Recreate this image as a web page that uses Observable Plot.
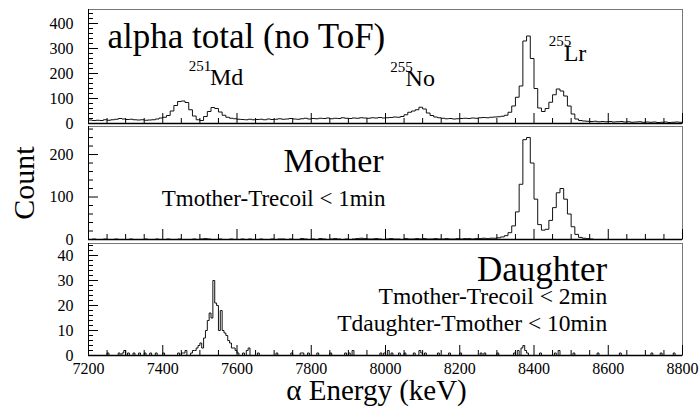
<!DOCTYPE html>
<html><head><meta charset="utf-8">
<script src="https://cdn.jsdelivr.net/npm/d3@7"></script>
<script src="https://cdn.jsdelivr.net/npm/@observablehq/plot@0.6"></script>
<style>
body{margin:0;background:#fff;}
#chart svg{display:block;}
#chart svg, #chart svg text, #chart svg g{font-family:"Liberation Serif","DejaVu Serif","Times New Roman",Times,serif !important;}
</style></head><body><div id="chart"></div>
<script>
// ---- data ----
const binStart = 7200;
const binEnd = 8800;
const totalBinWidth = 10;   // keV
// alpha total (no ToF), 10 keV bins from 7200
const totalCounts = [
  14, 12, 13, 12, 15, 13, 15, 17, 20, 18,
  16, 17, 15, 14, 15, 13, 14, 15, 18, 22,
  25, 32, 50, 72, 88, 90, 84, 55, 30, 15,
  12, 28, 48, 64, 60, 46, 33, 25, 21, 19,
  17, 16, 15, 17, 15, 16, 17, 15, 18, 16,
  17, 19, 17, 18, 20, 18, 17, 19, 21, 18,
  20, 19, 21, 20, 22, 19, 21, 20, 23, 21,
  20, 22, 21, 23, 22, 21, 23, 22, 24, 22,
  23, 24, 26, 25, 28, 35, 45, 50, 55, 65,
  58, 42, 32, 26, 23, 21, 19, 20, 18, 19,
  20, 21, 20, 22, 21, 23, 24, 23, 25, 26,
  27, 29, 33, 45, 70, 105, 150, 330, 350, 260,
  140, 62, 48, 60, 85, 115, 138, 130, 110, 70,
  38, 18, 12, 10, 9, 8, 9, 7, 8, 7,
  8, 6, 7, 8, 6, 7, 5, 6, 7, 5,
  6, 5, 6, 4, 5, 6, 4, 5, 6, 5
];
// Mother, 10 keV bins from 7200
const motherCounts = [
  0, 1, 0, 0, 1, 0, 0, 1, 0, 0,
  0, 1, 0, 0, 0, 1, 0, 0, 1, 0,
  0, 1, 0, 0, 1, 0, 0, 0, 1, 0,
  1, 2, 1, 0, 0, 1, 0, 0, 1, 0,
  0, 1, 0, 1, 0, 0, 1, 0, 0, 1,
  0, 1, 1, 0, 1, 0, 0, 2, 1, 0,
  1, 0, 2, 1, 0, 1, 2, 1, 0, 1,
  0, 1, 2, 3, 2, 1, 1, 2, 1, 0,
  1, 2, 1, 1, 0, 2, 1, 1, 2, 1,
  2, 1, 1, 2, 1, 1, 2, 1, 1, 2,
  1, 2, 2, 1, 2, 2, 3, 2, 3, 3,
  4, 6, 9, 16, 32, 65, 130, 235, 240, 180,
  95, 35, 22, 24, 45, 75, 110, 120, 95, 60,
  30, 12, 5, 3, 2, 1, 0, 0, 0, 0,
  0, 0, 0, 0, 0, 0, 0, 0, 0, 0,
  0, 0, 0, 0, 0, 0, 0, 0, 0, 0
];
// Daughter, 5 keV bins: [bin start keV, count], empty bins are 0
const daughterBinWidth = 5;
const daughterBins = [
  [7250,1],[7280,1],[7290,1],[7295,2],[7305,1],[7320,1],[7335,1],[7350,1],[7365,1],[7380,1],
  [7400,1],[7440,1],[7450,1],[7455,1],[7460,2],[7475,1],[7480,2],[7485,2],[7490,3],[7495,4],
  [7500,5],[7505,3],[7510,7],[7515,10],[7520,14],[7525,17],[7530,15],[7535,30],[7540,21],[7545,20],
  [7550,10],[7555,18],[7560,10],[7565,9],[7570,8],[7575,6],[7580,5],[7585,3],[7590,3],[7595,2],
  [7600,1],[7615,1],[7625,2],[7630,3],[7655,1],[7705,1],[7745,1],[7770,1],[7775,1],[7790,1],
  [7815,1],[7850,1],[7890,1],[7900,1],[7910,2],[7985,1],[7995,1],[8005,2],[8015,1],[8035,1],
  [8050,1],[8075,1],[8090,2],[8095,1],[8105,1],[8140,1],[8170,1],[8200,1],[8255,1],[8265,1],
  [8300,1],[8345,1],[8355,2],[8365,3],[8370,4],[8375,2],[8380,1],[8415,1],[8455,1],[8465,2],
  [8505,1],[8570,1],[8630,1],[8715,1],[8740,1],[8775,1]
];
const xMajorTicks = [7200, 7400, 7600, 7800, 8000, 8200, 8400, 8600, 8800];
const xMinorStep = 50;
const totalYTicks = [0, 100, 200, 300, 400];
const motherYTicks = [0, 100, 200];
const daughterYTicks = [0, 10, 20, 30, 40];

// ---- helpers ----
const serif = "Liberation Serif, DejaVu Serif, serif";
const W = 699, ML = 88, MR = 17;
const innerW = W - ML - MR;

function stepData(counts, width) {
  const pts = counts.map((c, i) => ({x: binStart + i * width, y: c}));
  pts.push({x: binStart + counts.length * width, y: counts[counts.length - 1]});
  return pts;
}
const daughterCounts = d3.range((binEnd - binStart) / daughterBinWidth).map(() => 0);
for (const [e, c] of daughterBins) daughterCounts[Math.round((e - binStart) / daughterBinWidth)] = c;

const xMinorTicks = d3.range(binStart, binEnd + 1, xMinorStep).filter(v => !xMajorTicks.includes(v));

function panel({height, marginTop, marginBottom, yMax, yMajor, yMinorStep, counts, width, showX, extra}) {
  const innerH = height - marginTop - marginBottom;
  const yMinor = d3.range(0, yMax, yMinorStep).filter(v => !yMajor.includes(v));
  return Plot.plot({
    width: W, height, marginLeft: ML, marginRight: MR, marginTop, marginBottom,
    x: {domain: [binStart, binEnd], axis: showX ? undefined : null, label: null},
    y: {domain: [0, yMax], label: null},
    style: {fontFamily: serif, fontSize: "16px", color: "black", background: "white", overflow: "visible"},
    marks: [
      Plot.frame({stroke: "#777", strokeWidth: 1}),
      Plot.lineY(stepData(counts, width), {x: "x", y: "y", curve: "step-after", stroke: "#111", strokeWidth: 1, clip: true}),
      Plot.tickX(xMinorTicks, {x: d => d, insetTop: innerH - 5, stroke: "black"}),
      Plot.tickX(xMajorTicks, {x: d => d, insetTop: innerH - 10, stroke: "black"}),
      Plot.tickY(yMinor, {y: d => d, insetRight: innerW - 5, stroke: "black"}),
      Plot.tickY(yMajor, {y: d => d, insetRight: innerW - 10, stroke: "black"}),
      Plot.axisY(yMajor, {tickSize: 0, tickPadding: 15, label: null, fontSize: 16, fontFamily: serif}),
      showX ? Plot.axisX(xMajorTicks, {tickSize: 0, tickPadding: 7, label: null, fontSize: 16, fontFamily: serif, tickFormat: d => String(d)}) : null,
      Plot.ruleX([binStart], {stroke: "black"}),
      Plot.ruleY([0], {stroke: "black", strokeWidth: 1.5}),
      ...extra
    ]
  });
}

const T = (data, opts) => Plot.text(data, {x: "x", y: "y", text: "t", fill: "black", fontFamily: serif, lineAnchor: "bottom", ...opts});

const p1 = panel({
  height: 125, marginTop: 9, marginBottom: 2, yMax: 456, yMajor: totalYTicks, yMinorStep: 20,
  counts: totalCounts, width: totalBinWidth, showX: false,
  extra: [
    T([{x: 7251, y: 304, t: "alpha total (no ToF)"}], {fontSize: 35, textAnchor: "start"}),
    T([{x: 7470, y: 210, t: "251"}, {x: 8013, y: 208, t: "255"}, {x: 8440, y: 310, t: "255"}], {fontSize: 15, textAnchor: "start"}),
    T([{x: 7527, y: 155, t: "Md"}, {x: 8054, y: 152, t: "No"}, {x: 8480, y: 252, t: "Lr"}], {fontSize: 24, textAnchor: "start"})
  ]
});
const p2 = panel({
  height: 116, marginTop: 1, marginBottom: 2, yMax: 266, yMajor: motherYTicks, yMinorStep: 20,
  counts: motherCounts, width: totalBinWidth, showX: false,
  extra: [
    T([{x: 7995, y: 158, t: "Mother"}], {fontSize: 34, textAnchor: "end"}),
    T([{x: 8000, y: 80, t: "Tmother-Trecoil < 1min"}], {fontSize: 23, textAnchor: "end"}),
    Plot.text(["Count"], {frameAnchor: "left", dx: -55, rotate: -90, lineAnchor: "bottom", textAnchor: "middle", fontSize: 30, fontFamily: serif, fill: "black"})
  ]
});
const p3 = panel({
  height: 165, marginTop: 2, marginBottom: 51, yMax: 44.8, yMajor: daughterYTicks, yMinorStep: 2,
  counts: daughterCounts, width: daughterBinWidth, showX: true,
  extra: [
    T([{x: 8597, y: 30, t: "Daughter"}], {fontSize: 35, textAnchor: "end"}),
    T([{x: 8597, y: 20.8, t: "Tmother-Trecoil < 2min"}, {x: 8597, y: 10, t: "Tdaughter-Tmother < 10min"}], {fontSize: 23.5, textAnchor: "end"}),
    Plot.text(["α Energy (keV)"], {frameAnchor: "bottom", dx: -9, dy: 44, lineAnchor: "bottom", textAnchor: "middle", fontSize: 29, fontFamily: serif, fill: "black"})
  ]
});
const chart = document.getElementById("chart");
chart.append(p1, p2, p3);
</script></body></html>
